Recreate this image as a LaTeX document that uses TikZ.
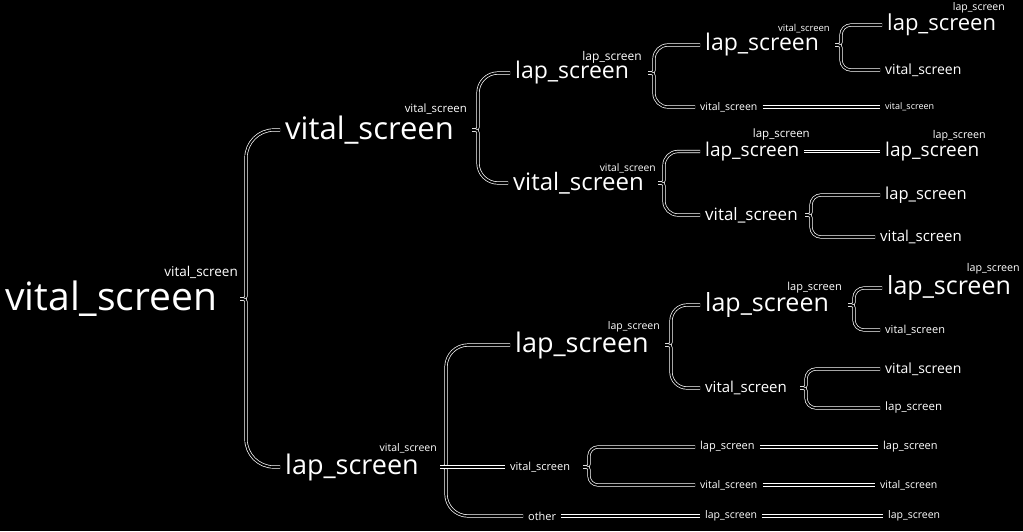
\documentclass[tikz,border=0pt]{standalone}
\usepackage{fontspec}
\setmainfont{Open Sans}
\usetikzlibrary{calc}
\tikzset{
 nd/.style={text=white, inner xsep=5pt, inner ysep=0pt, anchor=west, font=\fontsize{#1}{#1}\selectfont},
 lb/.style={text=white, inner sep=0pt, anchor=east, font=\fontsize{#1}{#1}\selectfont},
 conn/.style={draw=white, line width=0.7pt, double=black, double distance=1.8pt},
}
\newcommand\brch[3]{\draw[conn] (#1) [rounded corners=3pt] -- ($(#1)+(6,0)$) [rounded corners=#3] |- (#2.west);}
\begin{document}
\begin{tikzpicture}[x=1pt,y=-1pt]
\fill[black] (0,0) rectangle (1023,531);
\useasboundingbox (0,0) rectangle (1023,531);
% nodes
\node[nd=39] (n0) at (0,299) {vital\_screen};
\node[nd=31] (n1) at (280,130) {vital\_screen};
\node[nd=27] (n2) at (280,467) {lap\_screen};
\node[nd=23] (n11) at (510,73) {lap\_screen};
\node[nd=24] (n12) at (508,183) {vital\_screen};
\node[nd=27] (n21) at (510,345) {lap\_screen};
\node[nd=11] (n22) at (505,467) {vital\_screen};
\node[nd=11] (n23) at (523,516) {other};
\node[nd=23] (n111) at (700,45) {lap\_screen};
\node[nd=10.5] (n112) at (695,107) {vital\_screen};
\node[nd=19] (n121) at (700,151.5) {lap\_screen};
\node[nd=17] (n122) at (700,215) {vital\_screen};
\node[nd=25] (n211) at (700,305) {lap\_screen};
\node[nd=15] (n212) at (700,388) {vital\_screen};
\node[nd=11] (n221) at (695,447) {lap\_screen};
\node[nd=10.5] (n222) at (695,485) {vital\_screen};
\node[nd=10.5] (n231) at (700,516) {lap\_screen};
\node[nd=22] (n1111) at (882,25) {lap\_screen};
\node[nd=14] (n1112) at (880,70) {vital\_screen};
\node[nd=9] (n1121) at (880,107) {vital\_screen};
\node[nd=19] (n1211) at (880,151.5) {lap\_screen};
\node[nd=16.5] (n1221) at (880,195) {lap\_screen};
\node[nd=15] (n1222) at (875,237) {vital\_screen};
\node[nd=25] (n2111) at (882,288) {lap\_screen};
\node[nd=11] (n2112) at (880,330) {vital\_screen};
\node[nd=14] (n2121) at (880,369) {vital\_screen};
\node[nd=11.5] (n2122) at (880,408) {lap\_screen};
\node[nd=11] (n2211) at (878,447) {lap\_screen};
\node[nd=10.5] (n2221) at (875,485) {vital\_screen};
\node[nd=10.5] (n2311) at (883,516) {lap\_screen};
% small labels
\node[lb=13.5] (l0) at (238,272) {vital\_screen};
\node[lb=11.4] (l1) at (467,109) {vital\_screen};
\node[lb=10.5] (l2) at (437,448) {vital\_screen};
\node[lb=12] (l11) at (642,57) {lap\_screen};
\node[lb=10.3] (l12) at (656,168) {vital\_screen};
\node[lb=10.5] (l21) at (660,327) {lap\_screen};
\node[lb=9.5] (l111) at (830,29) {vital\_screen};
\node[lb=11.5] (l121) at (810,135) {lap\_screen};
\node[lb=11] (l211) at (842,288) {lap\_screen};
\node[lb=10.5] (l1111) at (1005,8) {lap\_screen};
\node[lb=10.7] (l1211) at (986,136) {lap\_screen};
\node[lb=10.7] (l2111) at (1020,269) {lap\_screen};
% branch points
\coordinate (t0) at (240,299);
\coordinate (t1) at (472,130);
\coordinate (t2) at (440,467);
\coordinate (t11) at (648,73);
\coordinate (t12) at (658,183);
\coordinate (t21) at (665,345);
\coordinate (t22) at (583,467);
\coordinate (t111) at (835,45);
\coordinate (t122) at (805,215);
\coordinate (t211) at (848,305);
\coordinate (t212) at (800,388);
% connectors
\brch{t0}{n1}{28pt}
\brch{t0}{n2}{28pt}
\brch{t1}{n11}{20pt}
\brch{t1}{n12}{20pt}
\brch{t2}{n21}{22pt}
\brch{t2}{n23}{22pt}
\draw[conn] (t2) -- (n22.west);
\brch{t11}{n111}{14pt}
\brch{t11}{n112}{14pt}
\brch{t12}{n121}{14pt}
\brch{t12}{n122}{14pt}
\brch{t21}{n211}{16pt}
\brch{t21}{n212}{16pt}
\brch{t22}{n221}{9pt}
\brch{t22}{n222}{9pt}
\brch{t111}{n1111}{10pt}
\brch{t111}{n1112}{10pt}
\brch{t122}{n1221}{10pt}
\brch{t122}{n1222}{10pt}
\brch{t211}{n2111}{10pt}
\brch{t211}{n2112}{10pt}
\brch{t212}{n2121}{10pt}
\brch{t212}{n2122}{10pt}
\draw[conn] (n112.east) -- (n1121.west);
\draw[conn] (n121.east) -- (n1211.west);
\draw[conn] (n221.east) -- (n2211.west);
\draw[conn] (n222.east) -- (n2221.west);
\draw[conn] (n23.east) -- (n231.west);
\draw[conn] (n231.east) -- (n2311.west);
\end{tikzpicture}
\end{document}
